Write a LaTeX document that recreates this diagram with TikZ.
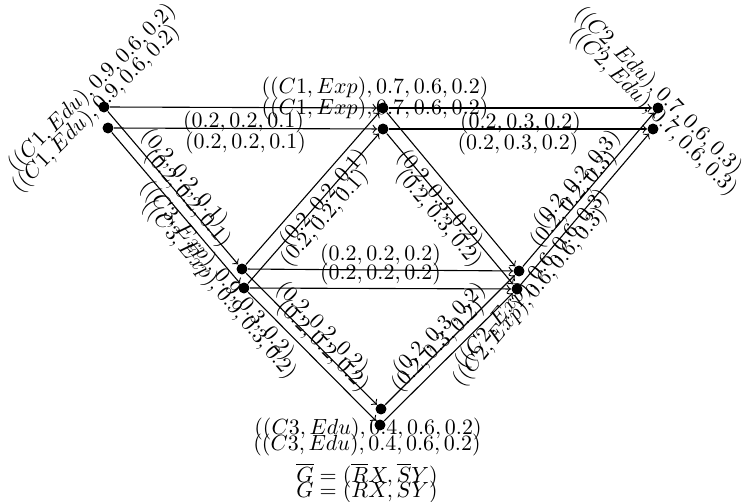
\documentclass[tikz,border=0pt]{standalone}
\begin{document}
\begin{tikzpicture}[x=0.016cm,y=-0.016cm,line width=0.5pt,
        vtx/.style={circle,fill,inner sep=0pt,minimum size=5pt},
        lab/.style={inner sep=1.5pt}]
        \useasboundingbox (0,0) rectangle (743,502);
        % Nodi
        \node[vtx] (C1EduA) at (104,107) {};
        \node[vtx] (C1ExpA) at (383,108) {};
        \node[vtx] (C2EduA) at (658,108) {};
        \node[vtx] (C3ExpA) at (242,269) {};
        \node[vtx] (C2ExpA) at (519,271) {};
        \node[vtx] (C3EduA) at (381,409) {};
        \node[vtx] (C1EduB) at (108,128) {};
        \node[vtx] (C1ExpB) at (383,129) {};
        \node[vtx] (C2EduB) at (653,129) {};
        \node[vtx] (C3ExpB) at (244,288) {};
        \node[vtx] (C2ExpB) at (517,289) {};
        \node[vtx] (C3EduB) at (380,425) {};
        \foreach \c in {A,B} {
            % Etichette dei nodi
            \node[rotate=45] (LC1Edu\c) at ([shift={(-12,-19)}]C1Edu\c) {$((C1, Edu), 0.9, 0.6, 0.2)$};
            \node (LC1Exp\c) at ([shift={(-8,-20)}]C1Exp\c) {$((C1, Exp), 0.7, 0.6, 0.2)$};
            \node[rotate=-45] (LC2Edu\c) at ([shift={(0,-17)}]C2Edu\c) {$((C2, Edu), 0.7, 0.6, 0.3)$};
            \node[rotate=-50] (LC3Exp\c) at ([shift={(-25,2)}]C3Exp\c) {$((C3, Exp), 0.9, 0.3, 0.2)$};
            \node[rotate=50] (LC2Exp\c) at ([shift={(13,8)}]C2Exp\c) {$((C2, Exp), 0.6, 0.6, 0.3)$};
            \node (LC3Edu\c) at ([shift={(-13,20)}]C3Edu\c) {$((C3, Edu), 0.4, 0.6, 0.2)$};
            % Archi
            \draw[->] (C1Edu\c) -- node[lab,below] {$(0.2, 0.2, 0.1)$} (C1Exp\c);
            \draw[->] (C1Exp\c) -- node[lab,below] {$(0.2, 0.3, 0.2)$} (C2Edu\c);
            \draw[->] (C1Edu\c) -- node[lab,sloped,above] {$(0.2, 0.2, 0.1)$} (C3Exp\c);
            \draw[->] (C3Exp\c) -- node[lab,sloped,below] {$(0.2, 0.2, 0.1)$} (C1Exp\c);
            \draw[->] (C1Exp\c) -- node[lab,sloped,below] {$(0.2, 0.3, 0.2)$} (C2Exp\c);
            \draw[->] (C3Exp\c) -- node[lab,above] {$(0.2, 0.2, 0.2)$} (C2Exp\c);
            \draw[->] (C3Exp\c) -- node[lab,sloped,above] {$(0.2, 0.2, 0.2)$} (C3Edu\c);
            \draw[->] (C3Edu\c) -- node[lab,sloped,above] {$(0.2, 0.3, 0.2)$} (C2Exp\c);
            \draw[->] (C2Exp\c) -- node[lab,sloped,above] {$(0.2, 0.2, 0.3)$} (C2Edu\c);
        }
        % Grafi
        \node (capA) at (367,476) {$\overline{G} = (\overline{R}X, \overline{S}Y)$};
        \node (capB) at (367,492) {$G = (RX, SY)$};
    \end{tikzpicture}
\end{document}
